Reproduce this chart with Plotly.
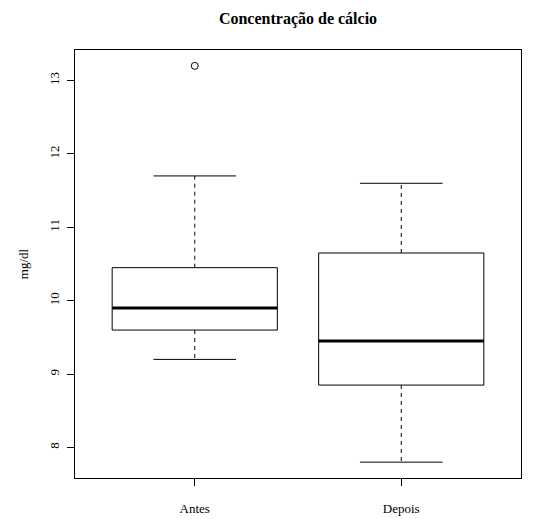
import plotly.graph_objects as go

categories = ["Antes", "Depois"]
q1 = [9.6, 8.85]
median = [9.9, 9.45]
q3 = [10.45, 10.65]
lower_whisker = [9.2, 7.8]
upper_whisker = [11.7, 11.6]
outliers = [[13.2], []]

box_half = 0.4
cap_half = 0.2
FONT = "Liberation Serif, Times New Roman, serif"

fig = go.Figure()
for i, cat in enumerate(categories):
    x = i + 1
    # box
    fig.add_trace(go.Scatter(
        x=[x - box_half, x + box_half, x + box_half, x - box_half, x - box_half],
        y=[q1[i], q1[i], q3[i], q3[i], q1[i]],
        mode="lines", line=dict(color="black", width=1), hoverinfo="skip", showlegend=False))
    # median
    fig.add_trace(go.Scatter(
        x=[x - box_half, x + box_half], y=[median[i], median[i]],
        mode="lines", line=dict(color="black", width=3), showlegend=False))
    # whiskers (dashed)
    fig.add_trace(go.Scatter(
        x=[x, x, None, x, x],
        y=[q3[i], upper_whisker[i], None, q1[i], lower_whisker[i]],
        mode="lines", line=dict(color="black", width=1, dash="4px,4px"), showlegend=False))
    # caps
    fig.add_trace(go.Scatter(
        x=[x - cap_half, x + cap_half, None, x - cap_half, x + cap_half],
        y=[upper_whisker[i], upper_whisker[i], None, lower_whisker[i], lower_whisker[i]],
        mode="lines", line=dict(color="black", width=1), showlegend=False))
    if outliers[i]:
        fig.add_trace(go.Scatter(
            x=[x] * len(outliers[i]), y=outliers[i], mode="markers",
            marker=dict(symbol="circle-open", size=7, color="black", line=dict(width=1)),
            showlegend=False))

fig.update_layout(
    width=547, height=519,
    margin=dict(l=75, r=26, t=50, b=41),
    paper_bgcolor="white", plot_bgcolor="white",
    font=dict(family=FONT, size=13, color="black"),
    title=dict(text="<b>Concentração de cálcio</b>", x=298/547, xanchor="center",
               y=1 - 18/519, yanchor="middle", yref="container",
               font=dict(family=FONT, size=16, color="black")),
    xaxis=dict(range=[0.42, 2.58], tickvals=[1, 2], ticktext=categories,
               showline=True, mirror=True, linecolor="black", linewidth=1,
               ticks="outside", ticklen=7, tickcolor="black", ticklabelstandoff=11,
               showgrid=False, zeroline=False, automargin=False,
               tickfont=dict(family=FONT, size=13, color="black")),
    yaxis=dict(range=[7.584, 13.416], tickvals=[8, 9, 10, 11, 12, 13],
               showline=True, mirror=True, linecolor="black", linewidth=1,
               ticks="outside", ticklen=7, tickcolor="black", tickangle=-90,
               ticklabelstandoff=3, automargin=False,
               showgrid=False, zeroline=False,
               tickfont=dict(family=FONT, size=13, color="black"),
               title=dict(text="mg/dl", standoff=15,
                          font=dict(family=FONT, size=13, color="black"))),
)

fig.write_html("out.html")
